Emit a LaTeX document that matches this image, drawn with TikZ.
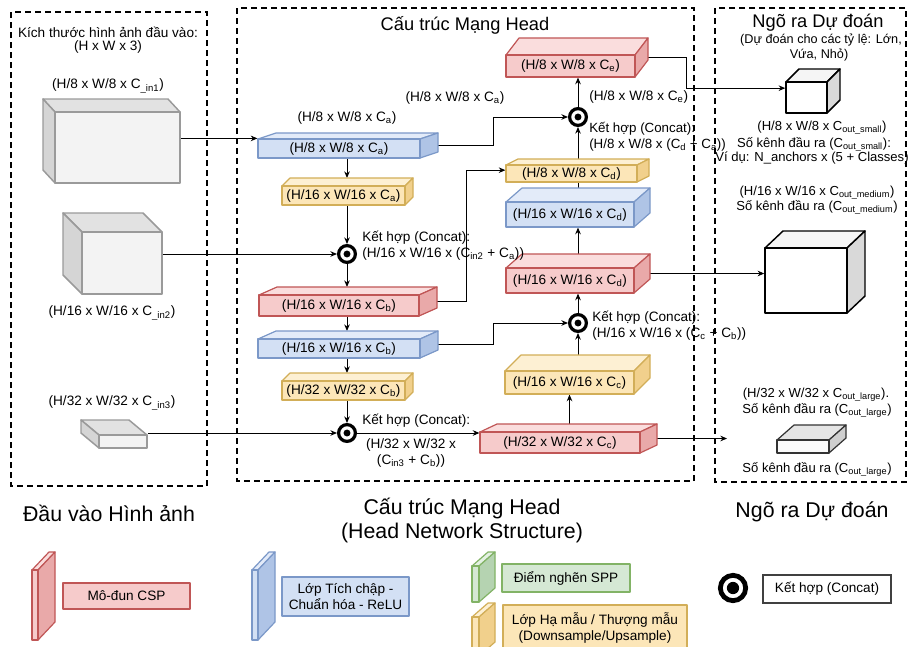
\documentclass[tikz,border=0pt]{standalone}
\usepackage{fontspec}
\setmainfont{Liberation Sans}
\usetikzlibrary{arrows.meta}
\pgfdeclarelayer{background}
\pgfsetlayers{background,main}

% palette
\definecolor{cRedF}{HTML}{F6CBCB}\definecolor{cRedT}{HTML}{FADDDD}
\definecolor{cRedS}{HTML}{E9A9A9}\definecolor{cRedD}{HTML}{C05656}
\definecolor{cBluF}{HTML}{D3E0F4}\definecolor{cBluT}{HTML}{E3EBF9}
\definecolor{cBluS}{HTML}{AFC4E6}\definecolor{cBluD}{HTML}{7B98C8}
\definecolor{cYelF}{HTML}{FCE6B8}\definecolor{cYelT}{HTML}{FDF0D3}
\definecolor{cYelS}{HTML}{F1D08C}\definecolor{cYelD}{HTML}{D2AE58}
\definecolor{cGrnF}{HTML}{D5E8D4}\definecolor{cGrnT}{HTML}{E4F1E3}
\definecolor{cGrnS}{HTML}{B5D3B1}\definecolor{cGrnD}{HTML}{82B366}
\definecolor{cGryF}{HTML}{F3F3F3}\definecolor{cGryT}{HTML}{E2E2E2}
\definecolor{cGryS}{HTML}{D5D5D5}\definecolor{cGryD}{HTML}{9A9A9A}

\tikzset{
  every node/.style={font=\fontsize{10.2}{12}\selectfont, inner sep=0pt},
  facebase/.style={line width=0.9pt, line join=round},
  red-front/.style={facebase, fill=cRedF, draw=cRedD},
  red-top/.style={facebase, fill=cRedT, draw=cRedD},
  red-side/.style={facebase, fill=cRedS, draw=cRedD},
  blu-front/.style={facebase, fill=cBluF, draw=cBluD},
  blu-top/.style={facebase, fill=cBluT, draw=cBluD},
  blu-side/.style={facebase, fill=cBluS, draw=cBluD},
  yel-front/.style={facebase, fill=cYelF, draw=cYelD},
  yel-top/.style={facebase, fill=cYelT, draw=cYelD},
  yel-side/.style={facebase, fill=cYelS, draw=cYelD},
  grn-front/.style={facebase, fill=cGrnF, draw=cGrnD},
  grn-top/.style={facebase, fill=cGrnT, draw=cGrnD},
  grn-side/.style={facebase, fill=cGrnS, draw=cGrnD},
  outk-front/.style={facebase, line width=1.1pt, fill=white, draw=black},
  outk-top/.style={facebase, line width=1.1pt, fill=white!96!black, draw=black},
  outk-side/.style={facebase, line width=1.1pt, fill=white!85!black, draw=black},
  outg-front/.style={facebase, fill=white!98!black, draw=black!80},
  outg-top/.style={facebase, fill=white!90!black, draw=black!80},
  outg-side/.style={facebase, fill=white!81!black, draw=black!80},
  cube-front/.style={line width=1.1pt, line join=round, fill=cGryF, draw=cGryD},
  cube-top/.style={line width=1.1pt, line join=round, fill=cGryT, draw=cGryD},
  cube-side/.style={line width=1.1pt, line join=round, fill=cGryS, draw=cGryD},
  panel/.style={draw=black, line width=1.1pt, dash pattern=on 4.5pt off 3pt},
  arr/.style={-{Stealth[length=5pt,width=4.2pt]}, line width=0.7pt},
  link/.style={line width=0.7pt},
  concat/.style={circle, draw=black, line width=2.4pt, minimum size=12.6pt,
    path picture={\fill[black] (path picture bounding box.center) circle (2.6pt);}},
  bigconcat/.style={circle, draw=black, line width=3.6pt, minimum size=19pt,
    path picture={\fill[black] (path picture bounding box.center) circle (4.6pt);}},
  legbox/.style={line width=1.5pt, align=center},
  caption/.style={font=\fontsize{13.7}{16}\selectfont},
  bigcaption/.style={font=\fontsize{16}{18}\selectfont, align=center},
  small/.style={font=\fontsize{9.5}{11}\selectfont},
  outtxt/.style={font=\fontsize{9.8}{11.5}\selectfont},
}

% slab drawn with depth towards the upper right:
% #1 name, #2 colour prefix, #3 left, #4 top, #5 right, #6 bottom, #7 dx, #8 dy, #9 text
\newcommand\slabbox[9]{%
  \pgfmathsetmacro\slxa{#3}%
  \pgfmathsetmacro\slxb{#5-#7}%
  \pgfmathsetmacro\slya{#4+#8}%
  \pgfmathsetmacro\slyb{#6}%
  \filldraw[#2-top] (\slxa,\slya) -- (\slxa+#7,#4) -- (#5,#4) -- (\slxb,\slya) -- cycle;
  \filldraw[#2-side] (\slxb,\slya) -- (#5,#4) -- (#5,#6-#8) -- (\slxb,\slyb) -- cycle;
  \node[#2-front, minimum width={(\slxb-\slxa)*0.75pt}, minimum height={(\slyb-\slya)*0.75pt}]
    (#1) at ({(\slxa+\slxb)/2},{(\slya+\slyb)/2}) {#9};
  \coordinate (#1-t) at ({(\slxa+\slxb)/2},#4);
  \coordinate (#1-r) at ({(\slxb+#5)/2},{((\slya+\slyb)/2+(#4+#6-#8)/2)/2});
}

% input cube with depth towards the upper left:
% #1 name, #2..#5 front face (x1,y1,x2,y2), #6 dx, #7 dy
\newcommand\incube[7]{%
  \filldraw[cube-top] (#2,#3) -- (#2-#6,#3-#7) -- (#4-#6,#3-#7) -- (#4,#3) -- cycle;
  \filldraw[cube-side] (#2,#3) -- (#2-#6,#3-#7) -- (#2-#6,#5-#7) -- (#2,#5) -- cycle;
  \node[cube-front, minimum width={(#4-#2)*0.75pt}, minimum height={(#5-#3)*0.75pt}]
    (#1) at ({(#2+#4)/2},{(#3+#5)/2}) {};
}

\begin{document}
\begin{tikzpicture}[x=0.75pt,y=-0.75pt]
\useasboundingbox (0,0) rectangle (909,646);
\clip (0,0) rectangle (909,646);

% dashed panels
\draw[panel] (11,12) rectangle (207,486);
\draw[panel] (237,8) rectangle (694,481);
\draw[panel] (715,8) rectangle (906,482);

% ---------- input panel ----------
\node (inT1) at (108,32) {Kích thước hình ảnh đầu vào:};
\node (inT2) at (108,47) {(H x W x 3)};
\node (inL1) at (108,86) {(H/8 x W/8 x C\textsubscript{\_in1})};
\incube{c1}{55}{112}{180}{183}{12}{13}
\incube{c2}{82}{232}{162}{294}{19}{19}
\node (inL2) at (112,313) {(H/16 x W/16 x C\textsubscript{\_in2})};
\node (inL3) at (112,403) {(H/32 x W/32 x C\textsubscript{\_in3})};
\incube{c3}{99}{435}{147}{448}{18}{15}

% ---------- head network ----------
\node[caption] (hdT) at (465,25) {Cấu trúc Mạng Head};
\node (lbA) at (347,118) {(H/8 x W/8 x C\textsubscript{a})};
\node (lbB) at (455,98) {(H/8 x W/8 x C\textsubscript{a})};

\slabbox{B1}{blu}{258}{133}{438}{158}{18}{6}{(H/8 x W/8 x C\textsubscript{a})}
\slabbox{Y1}{yel}{282}{178}{413}{205}{8}{8}{(H/16 x W/16 x C\textsubscript{a})}
\slabbox{R2}{red}{259}{287}{437}{316}{18}{8}{(H/16 x W/16 x C\textsubscript{b})}
\slabbox{B2}{blu}{258}{331}{438}{358}{18}{8}{(H/16 x W/16 x C\textsubscript{b})}
\slabbox{Y2}{yel}{282}{373}{413}{400}{8}{8}{(H/32 x W/32 x C\textsubscript{b})}
\slabbox{R3}{red}{480}{424}{657}{453}{17}{8}{(H/32 x W/32 x C\textsubscript{c})}
\slabbox{Y3}{yel}{505}{355}{650}{394}{16}{16}{(H/16 x W/16 x C\textsubscript{c})}
\slabbox{R4}{red}{506}{254}{650}{293}{16}{14}{(H/16 x W/16 x C\textsubscript{d})}
\slabbox{B3}{blu}{506}{188}{650}{227}{16}{14}{(H/16 x W/16 x C\textsubscript{d})}
\slabbox{Y4}{yel}{506}{159}{649}{182}{12}{6}{(H/8 x W/8 x C\textsubscript{d})}
\slabbox{R1}{red}{506}{38}{648}{77}{13}{17}{(H/8 x W/8 x C\textsubscript{e})}

\node[concat] (C1) at (347,254) {};
\node[concat] (C2) at (347,433) {};
\node[concat] (C3) at (578,117) {};
\node[concat] (C4) at (578,323) {};
\coordinate (colL) at (347,0);
\coordinate (colR) at (578,0);

\node[anchor=west, align=left] (lbC1) at (362,245.5)
  {Kết hợp (Concat):\\(H/16 x W/16 x (C\textsubscript{in2} + C\textsubscript{a}))};
\node[anchor=west] (lbC2a) at (362,421) {Kết hợp (Concat):};
\node[align=center] (lbC2b) at (411,452.5) {(H/32 x W/32 x\\(C\textsubscript{in3} + C\textsubscript{b}))};
\node[anchor=west, align=left, font=\fontsize{10}{12}\selectfont] (lbC3) at (589,136.5)
  {Kết hợp (Concat):\\(H/8 x W/8 x (C\textsubscript{d} + C\textsubscript{a}))};
\node[anchor=west, align=left] (lbC4) at (592,325.5)
  {Kết hợp (Concat):\\(H/16 x W/16 x (C\textsubscript{c} + C\textsubscript{b}))};
\node[anchor=west] (lbE) at (589,97) {(H/8 x W/8 x C\textsubscript{e})};

% ---------- prediction outputs ----------
\node[caption] (outT) at (818,23) {Ngõ ra Dự đoán};
\node[small] (outT1) at (821,40) {(Dự đoán cho các tỷ lệ: Lớn,};
\node[small] (outT2) at (819,55) {Vứa, Nhỏ)};
\slabbox{outS}{outk}{786}{69}{840}{113}{13}{13}{}
\node[outtxt] (oS1) at (822,128) {(H/8 x W/8 x C\textsubscript{out\_small})};
\node[outtxt] (oS2) at (814,144) {Số kênh đầu ra (C\textsubscript{out\_small}):};
\node[outtxt] (oS3) at (812,158) {Ví dụ: N\_anchors x (5 + Classes)};
\node[outtxt] (oM1) at (817,193) {(H/16 x W/16 x C\textsubscript{out\_medium})};
\node[outtxt] (oM2) at (817,207) {Số kênh đầu ra (C\textsubscript{out\_medium})};
\slabbox{outM}{outk}{765}{231}{865}{313}{18}{17}{}
\node[outtxt] (oL1) at (816,395) {(H/32 x W/32 x C\textsubscript{out\_large}).};
\node[outtxt] (oL2) at (817,410) {Số kênh đầu ra (C\textsubscript{out\_large})};
\slabbox{outL}{outg}{777}{425}{846}{453}{17}{15}{}
\node[outtxt] (oL3) at (817,469) {Số kênh đầu ra (C\textsubscript{out\_large})};
\coordinate (endL) at (727,438);

% ---------- connectors (kept behind the shapes) ----------
\begin{pgfonlayer}{background}
\fill[white] (0,0) rectangle (909,646);
\draw[arr] (c1.east |- B1.north west) -- (B1.north west);
\draw[arr] (colL |- B1.south) -- (colL |- Y1-t);
\draw[arr] (colL |- Y1.south) -- (C1);
\draw[arr] (c2.east |- C1) -- (C1);
\draw[arr] (C1) -- (colL |- R2-t);
\draw[arr] (colL |- R2.south) -- (colL |- B2-t);
\draw[arr] (colL |- B2.south) -- (colL |- Y2-t);
\draw[arr] (colL |- Y2.south) -- (C2);
\draw[arr] (c3.east |- C2) -- (C2);
\draw[arr] (C2) -- (C2 -| R3.west);
\draw[arr] (Y3.south |- R3-t) -- (Y3.south);
\draw[arr] (colR |- Y3-t) -- (C4);
\draw[arr] (C4) -- (colR |- R4.south);
\draw[arr] (colR |- R4-t) -- (colR |- B3.south);
\draw[link] (colR |- B3-t) -- (colR |- Y4.south);
\draw[arr] (colR |- Y4-t) -- (C3);
\draw[arr] (C3) -- (colR |- R1.south);
\draw[arr] (B1-r) -- ++(64,0) |- (C3);
\draw[arr] (R2-r) -- ++(38,0) |- ([yshift=2.5pt]Y4.west);
\draw[arr] (B2-r) -- ++(64,0) |- (C4);
\draw[arr] (R1-r) -- ++(45,0) |- ([yshift=7pt]outS.west);
\draw[arr] (R4-r) -- (R4-r -| outM.west);
\draw[arr] (R3-r) -- (R3-r -| endL);
\end{pgfonlayer}

% ---------- captions ----------
\node[bigcaption] (capIn) at (109,513) {Đầu vào Hình ảnh};
\node[bigcaption] (capHd) at (462,521) {Cấu trúc Mạng Head\\(Head Network Structure)};
\node[bigcaption] (capOut) at (812,512) {Ngõ ra Dự đoán};

% ---------- legend ----------
\slabbox{lgR}{red}{32}{552}{55}{640}{17}{18}{}
\node[legbox, red-front, line width=1.5pt, minimum width=95.25pt, minimum height=19.5pt] (lgCSP) at (126.5,596) {Mô-đun CSP};
\slabbox{lgB}{blu}{252}{552}{275}{640}{17}{18}{}
\node[legbox, blu-front, line width=1.5pt, minimum width=95.25pt, minimum height=29.25pt] (lgConv) at (345.5,596.5) {Lớp Tích chập -\\Chuẩn hóa - ReLU};
\slabbox{lgG}{grn}{472}{552}{495}{602}{16}{14}{}
\node[legbox, grn-front, line width=1.5pt, minimum width=96pt, minimum height=21pt] (lgSPP) at (566,578) {Điểm nghẽn SPP};
\slabbox{lgY}{yel}{472}{603}{495}{656}{16}{14}{}
\node[legbox, yel-front, line width=1.5pt, minimum width=138pt, minimum height=35.25pt] (lgSamp) at (595,628.5) {Lớp Hạ mẫu / Thượng mẫu\\(Downsample/Upsample)};
\node[bigconcat] (lgCir) at (733,588) {};
\node[legbox, fill=white, draw=black!75, minimum width=96pt, minimum height=21pt] (lgCat) at (827,589) {Kết hợp (Concat)};
\end{tikzpicture}
\end{document}
